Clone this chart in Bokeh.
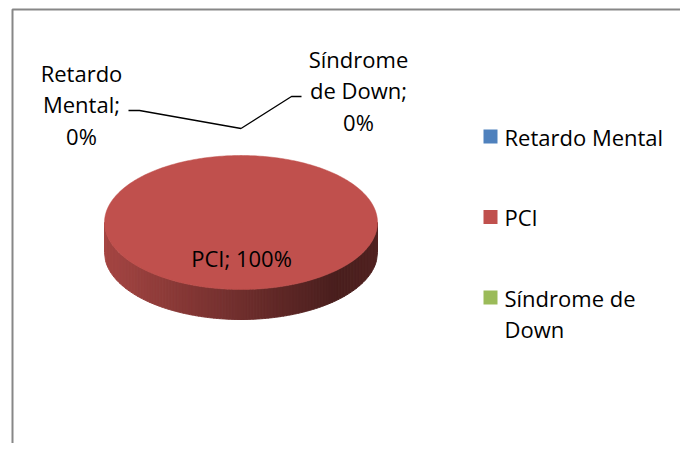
import textwrap
import numpy as np
from bokeh.plotting import figure
from bokeh.models import Range1d
from bokeh.core.properties import value
from bokeh.embed import file_html
from bokeh.resources import INLINE

# ---- data ----
categories = ["Retardo Mental", "PCI", "Síndrome de Down"]
values = [0, 100, 0]
colors = ["#4F81BD", "#C0504D", "#9BBB59"]

# ---- layout (screen pixel coordinates) ----
FONT = "Open Sans"
FS = "22px"
CX, CY, RX, RY, DEPTH = 240.5, 222.0, 136.5, 67.0, 30.0
LINE_H = 31.5
outside_label_pos = {0: (81, 72), 2: (358, 58)}   # top-line centre of outside labels
inside_label_pos = {1: (241, 257)}
leader = {0: [(128, 110), (139, 110)], 2: [(291, 96), (301, 96)]}
legend_x, legend_y0, legend_step = 490, 136, 80.5

p = figure(width=680, height=443, x_range=Range1d(0, 680), y_range=Range1d(443, 0),
           output_backend="svg", toolbar_location=None, min_border=0)
p.axis.visible = False
p.grid.visible = False
p.outline_line_color = None
p.background_fill_color = "white"
p.border_fill_color = "white"

# chart frame
p.line([12, 12, 700], [460, 9, 9], line_color="#878787", line_width=2)

total = float(sum(values))
fracs = [v / total for v in values]
# Excel: first slice starts at 12 o'clock, clockwise
starts = []
a = np.pi / 2
for f in fracs:
    starts.append(a)
    a -= f * 2 * np.pi


def hex2rgb(h):
    h = h.lstrip("#")
    return [int(h[i:i + 2], 16) for i in (0, 2, 4)]


def rgb2hex(c):
    return "#%02x%02x%02x" % tuple(int(max(0, min(255, round(v)))) for v in c)


# side band (front half) with horizontal shading
for i, f in enumerate(fracs):
    if f <= 0:
        continue
    base = np.array(hex2rgb(colors[i]), dtype=float)
    N = 90
    xs_list, ys_list, cols = [], [], []
    edges = np.linspace(-1, 1, N + 1)
    for k in range(N):
        t0, t1 = edges[k], edges[k + 1]
        tt = np.linspace(t0, t1, 4)
        xx = CX + RX * tt
        yy = CY + RY * np.sqrt(np.clip(1 - tt ** 2, 0, 1))
        px = list(xx) + list(xx[::-1])
        py = list(yy) + list((yy + DEPTH)[::-1])
        tm = (k + 0.5) / N
        if tm < 0.85:
            fac = 0.86 - (0.86 - 0.38) * (tm / 0.85)
        else:
            fac = 0.38 + (tm - 0.85) / 0.15 * 0.04
        xs_list.append(px)
        ys_list.append(py)
        cols.append(rgb2hex(base * fac))
    p.patches(xs_list, ys_list, fill_color=cols, line_color=cols, line_width=1)

# top face
for i, f in enumerate(fracs):
    if f <= 0:
        continue
    th = np.linspace(starts[i], starts[i] - f * 2 * np.pi, 361)
    xs = [CX] + list(CX + RX * np.cos(th)) + [CX]
    ys = [CY] + list(CY - RY * np.sin(th)) + [CY]
    p.patch(xs, ys, fill_color=colors[i], line_color=colors[i], line_width=0.5)

# data labels
for i, cat in enumerate(categories):
    pct = int(round(fracs[i] * 100))
    lab = f"{cat}; {pct}%"
    if i in inside_label_pos:
        x, y = inside_label_pos[i]
        p.text([x], [y], text=[lab], text_font=value(FONT), text_font_size=FS,
               text_align="center", text_baseline="middle", text_color="black")
    else:
        lines = textwrap.wrap(lab, width=9)
        x, y = outside_label_pos[i]
        p.text([x] * len(lines), [y + LINE_H * j for j in range(len(lines))], text=lines,
               text_font=value(FONT), text_font_size=FS, text_align="center",
               text_baseline="middle", text_color="black")
        # leader line to slice position (just outside the rim)
        mid = starts[i] - fracs[i] * np.pi
        ax = CX + RX * 1.403 * np.cos(mid)
        ay = CY - RY * 1.403 * np.sin(mid)
        pts = leader[i]
        if i == 0:
            lx = [pts[0][0], pts[1][0], ax]
            ly = [pts[0][1], pts[1][1], ay]
        else:
            lx = [ax, pts[0][0], pts[1][0]]
            ly = [ay, pts[0][1], pts[1][1]]
        p.line(lx, ly, line_color="black", line_width=1.3)

# legend
for i, cat in enumerate(categories):
    y = legend_y0 + legend_step * i
    p.rect([legend_x], [y], width=14, height=14, fill_color=colors[i], line_color=None)
    lines = textwrap.wrap(cat, width=14)
    p.text([legend_x + 14] * len(lines), [y + LINE_H * j for j in range(len(lines))], text=lines,
           text_font=value(FONT), text_font_size=FS, text_align="left",
           text_baseline="middle", text_color="black")

open("out.html", "w").write(file_html(p, INLINE))
